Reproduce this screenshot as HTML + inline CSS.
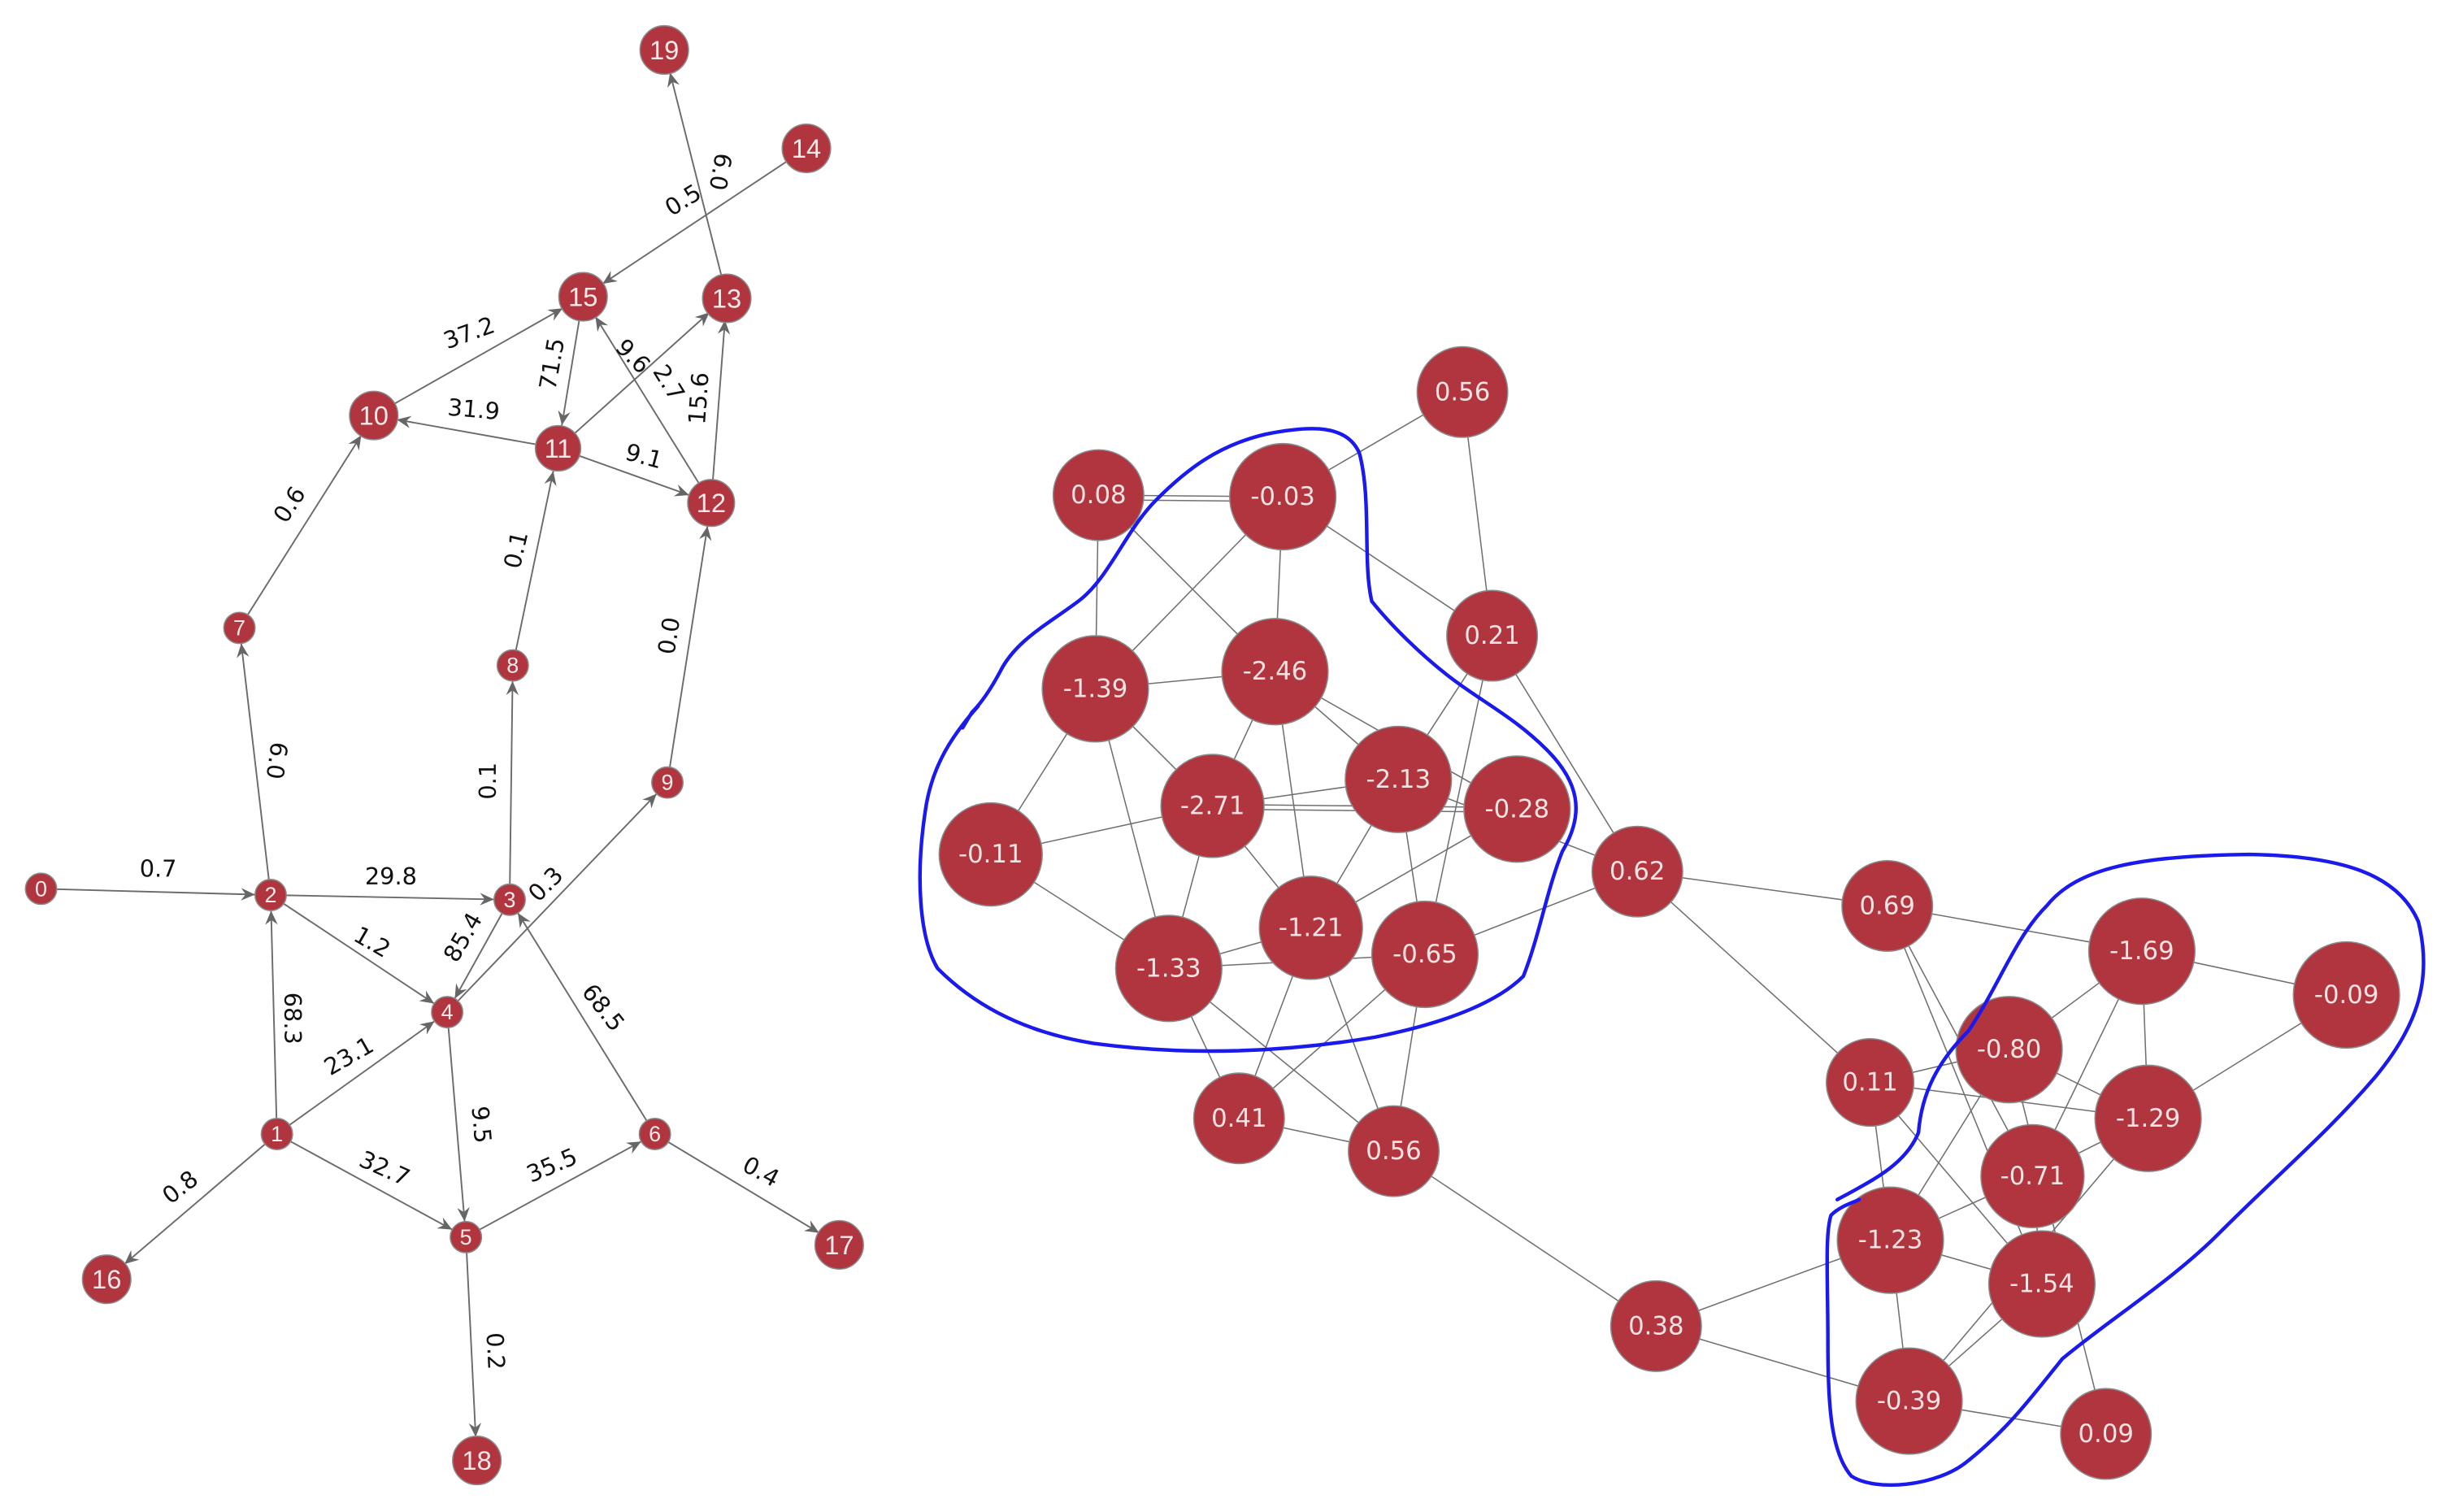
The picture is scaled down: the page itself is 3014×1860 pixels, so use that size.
<!DOCTYPE html>
<html><head><meta charset="utf-8"><style>
html,body{margin:0;padding:0;background:#fff;}
svg{display:block;}
.e{stroke:#6b6b6b;stroke-width:1;fill:none}
.r{stroke:#707070;stroke-width:0.8;fill:none}
.n{fill:#b0353e;stroke:#8a8a8a;stroke-width:0.8}
.sl{font-family:"Liberation Sans","DejaVu Sans",sans-serif;font-size:14px;fill:#fbe9e9;text-anchor:middle;dominant-baseline:central}
.bg{font-size:17px}
.bl{font-family:"DejaVu Sans","Liberation Sans",sans-serif;font-size:16px;fill:#f4e2e2;text-anchor:middle;dominant-baseline:central}
.lb{font-family:"DejaVu Sans","Liberation Sans",sans-serif;font-size:15px;fill:#111;text-anchor:middle;dominant-baseline:central}
</style></head><body>
<svg width="3014" height="1860" viewBox="0 0 1568 968" xmlns="http://www.w3.org/2000/svg">
<defs>
<marker id="as" markerUnits="userSpaceOnUse" markerWidth="12" markerHeight="10" refX="19" refY="4" orient="auto"><path d="M0,0 L9,4 L0,8 L3,4 Z" fill="#666"/></marker>
<marker id="al" markerUnits="userSpaceOnUse" markerWidth="12" markerHeight="10" refX="24" refY="4" orient="auto"><path d="M0,0 L9,4 L0,8 L3,4 Z" fill="#666"/></marker>
</defs>
<g class="e">
<line x1="26" y1="569" x2="173" y2="573" marker-end="url(#as)"/>
<line x1="173" y1="573" x2="153" y2="402" marker-end="url(#as)"/>
<line x1="153" y1="402" x2="239" y2="266" marker-end="url(#al)"/>
<line x1="239" y1="266" x2="373" y2="190" marker-end="url(#al)"/>
<line x1="357" y1="287" x2="239" y2="266" marker-end="url(#al)"/>
<line x1="373" y1="190" x2="357" y2="287" marker-end="url(#al)"/>
<line x1="357" y1="287" x2="465" y2="190" marker-end="url(#al)"/>
<line x1="455" y1="322" x2="373" y2="190" marker-end="url(#al)"/>
<line x1="455" y1="322" x2="465" y2="190" marker-end="url(#al)"/>
<line x1="357" y1="287" x2="455" y2="322" marker-end="url(#al)"/>
<line x1="328" y1="426" x2="357" y2="287" marker-end="url(#al)"/>
<line x1="427" y1="501" x2="455" y2="322" marker-end="url(#al)"/>
<line x1="326" y1="576" x2="328" y2="426" marker-end="url(#as)"/>
<line x1="173" y1="573" x2="326" y2="576" marker-end="url(#as)"/>
<line x1="173" y1="573" x2="286" y2="648" marker-end="url(#as)"/>
<line x1="326" y1="576" x2="286" y2="648" marker-end="url(#as)"/>
<line x1="286" y1="648" x2="427" y2="501" marker-end="url(#as)"/>
<line x1="177" y1="726" x2="173" y2="573" marker-end="url(#as)"/>
<line x1="177" y1="726" x2="286" y2="648" marker-end="url(#as)"/>
<line x1="177" y1="726" x2="298" y2="792" marker-end="url(#as)"/>
<line x1="286" y1="648" x2="298" y2="792" marker-end="url(#as)"/>
<line x1="298" y1="792" x2="419" y2="726" marker-end="url(#as)"/>
<line x1="419" y1="726" x2="326" y2="576" marker-end="url(#as)"/>
<line x1="419" y1="726" x2="537" y2="797" marker-end="url(#al)"/>
<line x1="177" y1="726" x2="68" y2="819" marker-end="url(#al)"/>
<line x1="298" y1="792" x2="305" y2="935" marker-end="url(#al)"/>
<line x1="465" y1="190" x2="425" y2="32" marker-end="url(#al)"/>
<line x1="516" y1="95" x2="373" y2="190" marker-end="url(#al)"/>
</g>
<g class="lb">
<text x="101" y="556">0.7</text>
<text x="177" y="487" transform="rotate(98 177 487)">6.0</text>
<text x="185" y="323" transform="rotate(-57 185 323)">0.6</text>
<text x="300" y="213" transform="rotate(-20 300 213)">37.2</text>
<text x="303" y="262" transform="rotate(5 303 262)">31.9</text>
<text x="353" y="233" transform="rotate(-80 353 233)">71.5</text>
<text x="405" y="228" transform="rotate(45 405 228)">9.6</text>
<text x="428" y="245" transform="rotate(58 428 245)">2.7</text>
<text x="447" y="255" transform="rotate(-86 447 255)">15.6</text>
<text x="412" y="292" transform="rotate(15 412 292)">9.1</text>
<text x="330" y="352" transform="rotate(-77 330 352)">0.1</text>
<text x="428" y="407" transform="rotate(-81 428 407)">0.0</text>
<text x="312" y="500" transform="rotate(-90 312 500)">0.1</text>
<text x="250" y="561">29.8</text>
<text x="238" y="603" transform="rotate(30 238 603)">1.2</text>
<text x="296" y="600" transform="rotate(-60 296 600)">85.4</text>
<text x="349" y="566" transform="rotate(-45 349 566)">0.3</text>
<text x="187" y="652" transform="rotate(90 187 652)">68.3</text>
<text x="223" y="676" transform="rotate(-30 223 676)">23.1</text>
<text x="246" y="748" transform="rotate(24 246 748)">32.7</text>
<text x="308" y="720" transform="rotate(85 308 720)">9.5</text>
<text x="353" y="746" transform="rotate(-23 353 746)">35.5</text>
<text x="386" y="645" transform="rotate(52 386 645)">68.5</text>
<text x="487" y="750" transform="rotate(28 487 750)">0.4</text>
<text x="115" y="760" transform="rotate(-38 115 760)">0.8</text>
<text x="317" y="865" transform="rotate(87 317 865)">0.2</text>
<text x="461" y="110" transform="rotate(100 461 110)">6.0</text>
<text x="437" y="128" transform="rotate(-32 437 128)">0.5</text>
</g>
<g>
<circle class="n" cx="26" cy="569" r="10"/><text class="sl" x="26" y="569">0</text>
<circle class="n" cx="177" cy="726" r="10"/><text class="sl" x="177" y="726">1</text>
<circle class="n" cx="173" cy="573" r="10"/><text class="sl" x="173" y="573">2</text>
<circle class="n" cx="326" cy="576" r="10"/><text class="sl" x="326" y="576">3</text>
<circle class="n" cx="286" cy="648" r="10"/><text class="sl" x="286" y="648">4</text>
<circle class="n" cx="298" cy="792" r="10"/><text class="sl" x="298" y="792">5</text>
<circle class="n" cx="419" cy="726" r="10"/><text class="sl" x="419" y="726">6</text>
<circle class="n" cx="153" cy="402" r="10"/><text class="sl" x="153" y="402">7</text>
<circle class="n" cx="328" cy="426" r="10"/><text class="sl" x="328" y="426">8</text>
<circle class="n" cx="427" cy="501" r="10"/><text class="sl" x="427" y="501">9</text>
<circle class="n" cx="239" cy="266" r="15.5"/><text class="sl bg" x="239" y="266">10</text>
<circle class="n" cx="357" cy="287" r="14.5"/><text class="sl bg" x="357" y="287">11</text>
<circle class="n" cx="455" cy="322" r="15"/><text class="sl bg" x="455" y="322">12</text>
<circle class="n" cx="465" cy="191" r="15.5"/><text class="sl bg" x="465" y="191">13</text>
<circle class="n" cx="516" cy="95" r="15.5"/><text class="sl bg" x="516" y="95">14</text>
<circle class="n" cx="373" cy="190" r="15.5"/><text class="sl bg" x="373" y="190">15</text>
<circle class="n" cx="68" cy="819" r="15.5"/><text class="sl bg" x="68" y="819">16</text>
<circle class="n" cx="537" cy="797" r="15.5"/><text class="sl bg" x="537" y="797">17</text>
<circle class="n" cx="305" cy="935" r="15.5"/><text class="sl bg" x="305" y="935">18</text>
<circle class="n" cx="425" cy="32" r="15.5"/><text class="sl bg" x="425" y="32">19</text>
</g>
<g class="r">
<line x1="703" y1="317" x2="821" y2="318"/><line x1="703" y1="320" x2="821" y2="321"/>
<line x1="703" y1="317" x2="701" y2="441"/>
<line x1="703" y1="317" x2="816" y2="430"/>
<line x1="821" y1="318" x2="936" y2="251"/>
<line x1="821" y1="318" x2="955" y2="407"/>
<line x1="821" y1="318" x2="701" y2="441"/>
<line x1="821" y1="318" x2="816" y2="430"/>
<line x1="936" y1="251" x2="955" y2="407"/>
<line x1="955" y1="407" x2="895" y2="499"/>
<line x1="955" y1="407" x2="912" y2="611"/>
<line x1="955" y1="407" x2="1048" y2="558"/>
<line x1="701" y1="441" x2="816" y2="430"/>
<line x1="701" y1="441" x2="634" y2="547"/>
<line x1="701" y1="441" x2="776" y2="516"/>
<line x1="701" y1="441" x2="748" y2="620"/>
<line x1="816" y1="430" x2="776" y2="516"/>
<line x1="816" y1="430" x2="839" y2="594"/>
<line x1="816" y1="430" x2="895" y2="499"/>
<line x1="816" y1="430" x2="971" y2="518"/>
<line x1="776" y1="516" x2="634" y2="547"/>
<line x1="776" y1="516" x2="895" y2="499"/>
<line x1="776" y1="515" x2="971" y2="517"/><line x1="776" y1="518" x2="971" y2="520"/>
<line x1="776" y1="516" x2="748" y2="620"/>
<line x1="776" y1="516" x2="839" y2="594"/>
<line x1="895" y1="499" x2="1048" y2="558"/>
<line x1="895" y1="499" x2="839" y2="594"/>
<line x1="895" y1="499" x2="912" y2="611"/>
<line x1="971" y1="518" x2="839" y2="594"/>
<line x1="634" y1="547" x2="748" y2="620"/>
<line x1="748" y1="620" x2="839" y2="594"/>
<line x1="748" y1="620" x2="912" y2="611"/>
<line x1="748" y1="620" x2="793" y2="716"/>
<line x1="748" y1="620" x2="892" y2="737"/>
<line x1="839" y1="594" x2="793" y2="716"/>
<line x1="839" y1="594" x2="892" y2="737"/>
<line x1="912" y1="611" x2="1048" y2="558"/>
<line x1="912" y1="611" x2="793" y2="716"/>
<line x1="912" y1="611" x2="892" y2="737"/>
<line x1="793" y1="716" x2="892" y2="737"/>
<line x1="892" y1="737" x2="1060" y2="849"/>
<line x1="1048" y1="558" x2="1208" y2="580"/>
<line x1="1048" y1="558" x2="1197" y2="693"/>
<line x1="1208" y1="580" x2="1371" y2="609"/>
<line x1="1208" y1="580" x2="1301" y2="753"/>
<line x1="1208" y1="580" x2="1307" y2="822"/>
<line x1="1197" y1="693" x2="1286" y2="672"/>
<line x1="1197" y1="693" x2="1375" y2="716"/>
<line x1="1197" y1="693" x2="1210" y2="794"/>
<line x1="1197" y1="693" x2="1307" y2="822"/>
<line x1="1371" y1="609" x2="1502" y2="637"/>
<line x1="1371" y1="609" x2="1286" y2="672"/>
<line x1="1371" y1="609" x2="1375" y2="716"/>
<line x1="1371" y1="609" x2="1301" y2="753"/>
<line x1="1502" y1="637" x2="1375" y2="716"/>
<line x1="1286" y1="672" x2="1375" y2="716"/>
<line x1="1286" y1="672" x2="1210" y2="794"/>
<line x1="1286" y1="672" x2="1348" y2="918"/>
<line x1="1375" y1="716" x2="1301" y2="753"/>
<line x1="1375" y1="716" x2="1222" y2="897"/>
<line x1="1301" y1="753" x2="1210" y2="794"/>
<line x1="1301" y1="753" x2="1307" y2="822"/>
<line x1="1210" y1="794" x2="1307" y2="822"/>
<line x1="1210" y1="794" x2="1222" y2="897"/>
<line x1="1210" y1="794" x2="1060" y2="849"/>
<line x1="1307" y1="822" x2="1222" y2="897"/>
<line x1="1222" y1="897" x2="1060" y2="849"/>
<line x1="1222" y1="897" x2="1348" y2="918"/>
</g>
<g>
<circle class="n" cx="936" cy="251" r="29"/><text class="bl" x="936" y="251">0.56</text>
<circle class="n" cx="703" cy="317" r="29"/><text class="bl" x="703" y="317">0.08</text>
<circle class="n" cx="821" cy="318" r="34"/><text class="bl" x="821" y="318">-0.03</text>
<circle class="n" cx="955" cy="407" r="29"/><text class="bl" x="955" y="407">0.21</text>
<circle class="n" cx="701" cy="441" r="34"/><text class="bl" x="701" y="441">-1.39</text>
<circle class="n" cx="816" cy="430" r="34"/><text class="bl" x="816" y="430">-2.46</text>
<circle class="n" cx="776" cy="516" r="33"/><text class="bl" x="776" y="516">-2.71</text>
<circle class="n" cx="895" cy="499" r="34"/><text class="bl" x="895" y="499">-2.13</text>
<circle class="n" cx="971" cy="518" r="34"/><text class="bl" x="971" y="518">-0.28</text>
<circle class="n" cx="634" cy="547" r="33"/><text class="bl" x="634" y="547">-0.11</text>
<circle class="n" cx="839" cy="594" r="33"/><text class="bl" x="839" y="594">-1.21</text>
<circle class="n" cx="912" cy="611" r="34"/><text class="bl" x="912" y="611">-0.65</text>
<circle class="n" cx="748" cy="620" r="34"/><text class="bl" x="748" y="620">-1.33</text>
<circle class="n" cx="1048" cy="558" r="29"/><text class="bl" x="1048" y="558">0.62</text>
<circle class="n" cx="1208" cy="580" r="29"/><text class="bl" x="1208" y="580">0.69</text>
<circle class="n" cx="793" cy="716" r="29"/><text class="bl" x="793" y="716">0.41</text>
<circle class="n" cx="892" cy="737" r="29"/><text class="bl" x="892" y="737">0.56</text>
<circle class="n" cx="1060" cy="849" r="29"/><text class="bl" x="1060" y="849">0.38</text>
<circle class="n" cx="1197" cy="693" r="28"/><text class="bl" x="1197" y="693">0.11</text>
<circle class="n" cx="1371" cy="609" r="34"/><text class="bl" x="1371" y="609">-1.69</text>
<circle class="n" cx="1502" cy="637" r="34"/><text class="bl" x="1502" y="637">-0.09</text>
<circle class="n" cx="1286" cy="672" r="34"/><text class="bl" x="1286" y="672">-0.80</text>
<circle class="n" cx="1375" cy="716" r="34"/><text class="bl" x="1375" y="716">-1.29</text>
<circle class="n" cx="1301" cy="753" r="33"/><text class="bl" x="1301" y="753">-0.71</text>
<circle class="n" cx="1210" cy="794" r="34"/><text class="bl" x="1210" y="794">-1.23</text>
<circle class="n" cx="1307" cy="822" r="34"/><text class="bl" x="1307" y="822">-1.54</text>
<circle class="n" cx="1222" cy="897" r="34"/><text class="bl" x="1222" y="897">-0.39</text>
<circle class="n" cx="1348" cy="918" r="29"/><text class="bl" x="1348" y="918">0.09</text>
</g>
<g fill="none" stroke="#1a1aee" stroke-width="2.3" stroke-linejoin="round" stroke-linecap="round">
<path d="M616,466 L622,456 M626,452 C610,470 596,490 592,520 C586,560 588,600 600,620 C620,640 650,660 700,668 C760,676 820,674 880,664 C930,654 960,640 975,625 C985,600 990,570 1000,545 C1015,520 1010,500 990,480 C970,460 950,450 930,435 C910,420 890,400 878,385 C872,360 878,320 870,290 C862,272 840,272 810,278 C780,285 760,300 740,320 C720,340 710,370 690,385 C670,400 650,410 640,430 C632,445 626,452 622,456"/>
<path d="M1176,768 C1200,755 1220,745 1228,725 C1230,700 1240,680 1260,660 C1280,630 1290,600 1310,580 C1330,555 1370,548 1440,547 C1500,548 1535,560 1548,590 C1558,630 1545,660 1520,690 C1490,725 1460,750 1420,790 C1390,820 1350,845 1320,870 C1300,895 1285,915 1260,935 C1240,952 1200,955 1185,945 C1172,930 1170,900 1170,860 C1170,820 1168,790 1172,778 C1178,772 1186,770 1190,768"/>
</g>
</svg>
</body></html>
